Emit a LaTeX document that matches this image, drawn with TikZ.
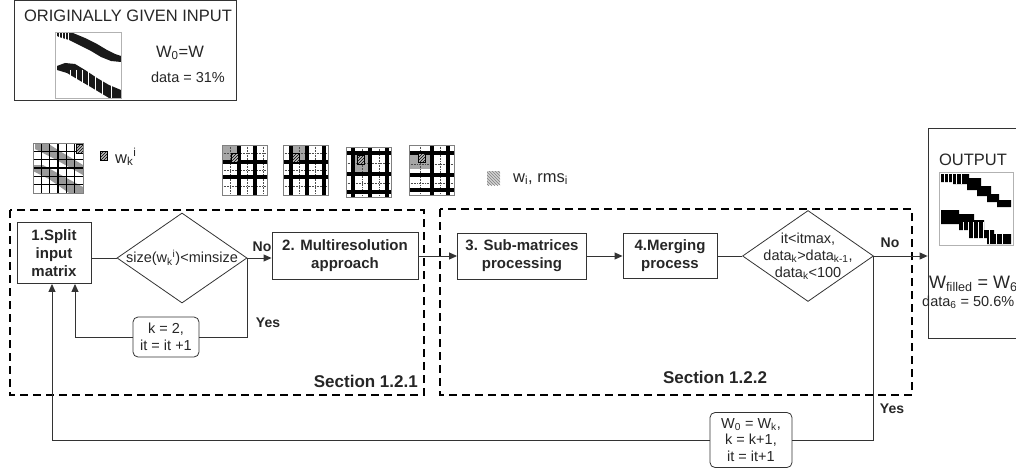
\documentclass[tikz,border=0pt]{standalone}
\usepackage{fontspec}
\setmainfont{Liberation Sans}
\usetikzlibrary{arrows.meta}
\usetikzlibrary{positioning}
\usetikzlibrary{shapes.geometric}
\usetikzlibrary{patterns}

% small hatched cell
\newcommand{\hatchcell}[2]{%
  \fill[gray!55] (#1,#2) rectangle ++(7,9);
  \fill[pattern=north east lines,pattern color=black] (#1,#2) rectangle ++(7,9);
  \draw[line width=0.4pt] (#1,#2) rectangle ++(7,9);}

% sub-matrix grid: x, y, vbars, hbars, vdots, hdots, gray block, hatch pos
\newcommand{\mgrid}[8]{%
  \begin{scope}[shift={(#1,#2)}]
    \fill[white] (0,0) rectangle (45,50);
    \fill[gray!70] #7;
    \foreach \gx in {#5} \draw[gridmark] (\gx,0) -- (\gx,50);
    \foreach \gy in {#6} \draw[gridmark] (0,\gy) -- (45,\gy);
    \foreach \gx in {#3} \draw[line width=4.5pt] (\gx,0) -- (\gx,50);
    \foreach \gy in {#4} \draw[line width=4.5pt] (0,\gy) -- (45,\gy);
    \hatchcell#8
    \draw[gray,line width=0.8pt] (0,0) rectangle (45,50);
  \end{scope}}

\begin{document}
\begin{tikzpicture}[x=1pt,y=-1pt,
    stepbox/.style={draw=black!80,line width=0.9pt,align=center,inner sep=0pt,
      text=black!85,font=\fontsize{15}{18}\selectfont\bfseries},
    decision/.style={diamond,draw=black!80,line width=0.8pt,inner sep=0pt},
    condtext/.style={align=center,inner sep=0pt,text=black!85,font=\fontsize{14.5}{17}\selectfont},
    updatebox/.style={draw=black!80,rounded corners=5pt,line width=0.8pt,align=center,
      inner sep=0pt,text=black!85,font=\fontsize{14.5}{16.5}\selectfont},
    sectionbox/.style={line width=1.7pt,dash pattern=on 8pt off 5pt},
    flow/.style={line width=0.9pt,draw=black!80},
    arr/.style={flow,-{Triangle[length=8pt,width=7pt]}},
    lbl/.style={inner sep=0pt,text=black!85,font=\fontsize{14}{17}\selectfont\bfseries},
    seclbl/.style={inner sep=0pt,text=black!85,font=\fontsize{17}{20}\selectfont\bfseries},
    txt/.style={inner sep=0pt,text=black!85,font=\fontsize{14.5}{17}\selectfont},
    bigtxt/.style={inner sep=0pt,text=black!85,font=\fontsize{16.5}{19}\selectfont},
    gridmark/.style={densely dotted,line width=0.6pt,black!70},
]
\useasboundingbox (0,0) rectangle (1016,468);
\clip (0,0) rectangle (1016,468);

% original input
\node[draw=black!80,line width=0.8pt,minimum width=222pt,minimum height=100pt,inner sep=0pt] (inbox) at (125,50) {};
\node[bigtxt] (intitle) at (128,16) {ORIGINALLY GIVEN INPUT};
\node[bigtxt] (w0) at (180,53) {W\textsubscript{0}=W};
\node[txt] (data0) at (188,77) {data = 31\%};
\begin{scope}[shift={(55,32)}]
  \fill[black!90] (2,1) -- (18,1) -- (30,6) -- (42,12) -- (52,18) -- (60,22) -- (66,24) -- (66,30) -- (56,29)
    -- (46,25) -- (36,19) -- (24,13) -- (14,8) -- (4,5) -- (2,4) -- cycle;
  \fill[black!90] (2,34) -- (10,31) -- (20,32) -- (30,38) -- (42,46) -- (54,53) -- (66,58) -- (66,66)
    -- (54,66) -- (44,60) -- (34,54) -- (22,47) -- (12,41) -- (2,38) -- cycle;
  \foreach \gx in {4,7,10,13} \draw[white,line width=0.8pt] (\gx,0) -- (\gx,9);
  \foreach \gx in {15,21,27,33,40,47,56} \draw[white,line width=1pt] (\gx,38) -- (\gx,66);
  \draw[gray!60,line width=0.6pt] (0,0) rectangle (66,66);
\end{scope}

% icons
\begin{scope}[shift={(33,143)}]
  \fill[white] (0,0) rectangle (50,50);
  \fill[gray!80] (2,0) -- (14,0) -- (30,10) -- (50,22) -- (50,32) -- (36,24) -- (18,14) -- (2,6) -- cycle;
  \fill[gray!80] (0,22) -- (10,22) -- (28,32) -- (50,44) -- (50,50) -- (36,50) -- (16,36) -- (0,28) -- cycle;
  \foreach \i in {1,...,5} {
    \draw[line width=1.2pt] ({\i*50/6},0) -- ({\i*50/6},50);
    \draw[line width=1.2pt] (0,{\i*50/6}) -- (50,{\i*50/6});
  }
  \hatchcell{43}{1}
  \draw[gray,line width=0.8pt] (0,0) rectangle (50,50);
\end{scope}
\hatchcell{100}{151}
\node[bigtxt,anchor=west] (wk) at (115,157) {w\textsubscript{k}\textsuperscript{i}};

\mgrid{222}{145}{17,33}{17,32}{8,25,41}{8,25,41}{(0,0) rectangle (17,17)}{{9}{8}}
\mgrid{283}{145}{8,24,41}{17,32}{16,32}{8,25,41}{(8,0) rectangle (24,17)}{{9}{8}}
\mgrid{346}{147}{7,24,41}{6,27,45}{16,33}{16,36}{(8,6) rectangle (24,27)}{{11}{8}}
\mgrid{409}{145}{23,39}{8,30,45}{11,31}{19,38}{(0,9) rectangle (22,24)}{{9}{8}}

\fill[gray!35] (487,171) rectangle (500,185);
\fill[pattern=north west lines,pattern color=gray] (487,171) rectangle (500,185);
\node[bigtxt,anchor=west] (rms) at (513,179) {w\textsubscript{i}, rms\textsubscript{i}};

% section boxes
\draw[sectionbox] (10,210) rectangle (424,395);
\draw[sectionbox] (440,209) rectangle (912,395);
\node[seclbl,anchor=east] (sec1) at (418,381) {Section 1.2.1};
\node[seclbl] (sec2) at (715,377) {Section 1.2.2};

% steps
\node[stepbox,minimum width=74pt,minimum height=61pt] (split) at (54,253) {1.Split\\input\\matrix};
\node[decision,minimum width=130pt,minimum height=90pt] (size) at (182,258) {};
\node[condtext] (sizetxt) at (size) {size(w\textsubscript{k}\textsuperscript{i})<minsize};
\node[stepbox,minimum width=146pt,minimum height=47pt] (multi) at (345,256) {2. Multiresolution\\approach};
\node[updatebox,minimum width=66pt,minimum height=40pt] (reset) at (166,337) {k = 2,\\it = it +1};

\node[stepbox,minimum width=129pt,minimum height=46pt] (sub) at (522,256) {3. Sub-matrices\\processing};
\node[stepbox,minimum width=94pt,minimum height=45pt] (merge) at (670,256) {4.Merging\\process};
\node[decision,minimum width=131pt,minimum height=91pt] (stop) at (808,256) {};
\node[condtext] (stoptxt) at (stop) {it<itmax,\\data\textsubscript{k}>data\textsubscript{k-1},\\data\textsubscript{k}<100};
\node[updatebox,minimum width=82pt,minimum height=55pt] (next) at (751,440) {W\textsubscript{0} = W\textsubscript{k},\\k = k+1,\\it = it+1};

% output
\node[draw=black!80,line width=0.8pt,minimum width=110pt,minimum height=210pt,inner sep=0pt] (outbox) at (983,233) {};
\node[bigtxt] (outtitle) at (973,160) {OUTPUT};
\begin{scope}[shift={(939,172)}]
  \fill[black] (2,2) -- (30,2) -- (30,6) -- (42,6) -- (42,14) -- (52,14) -- (52,22) -- (60,22) -- (60,28)
    -- (72,28) -- (72,35) -- (58,35) -- (58,30) -- (48,30) -- (48,24) -- (38,24) -- (38,18) -- (28,18)
    -- (28,12) -- (14,12) -- (14,10) -- (2,10) -- cycle;
  \fill[black] (2,38) -- (20,38) -- (20,42) -- (35,42) -- (35,48) -- (45,48) -- (45,58) -- (55,58)
    -- (55,62) -- (72,62) -- (72,72) -- (48,72) -- (48,66) -- (30,66) -- (30,58) -- (20,58) -- (20,52)
    -- (2,52) -- cycle;
  \foreach \gx in {5,9,13,17,22} \draw[white,line width=0.9pt] (\gx,2) -- (\gx,12);
  \foreach \gx in {24,29,34,39,44,50,57,63} \draw[white,line width=1pt] (\gx,50) -- (\gx,72);
  \draw[gray!60,line width=0.6pt] (0,0) rectangle (74,73);
\end{scope}
\node[anchor=west,inner sep=0pt,text=black!85,font=\fontsize{18}{21}\selectfont] (wfill) at (929,284) {W\textsubscript{filled} = W\textsubscript{6}};
\node[txt,anchor=west] (data6) at (922,302) {data\textsubscript{6} = 50.6\%};

% connectors
\draw[flow] (size.west -| split.east) -- (size.west);
\draw[arr] (size.east) -- (size.east -| multi.west);
\draw[arr] (multi) -- (sub);
\draw[arr] (sub) -- (merge);
\draw[flow] (merge) -- (stop);
\draw[arr] (stop.east) -- (stop.east -| outbox.west);
\draw[flow] (size.east) |- (reset.east);
\draw[arr] (reset.west) -| ([xshift=21pt]split.south);
\draw[flow] (stop.east) |- (next.east);
\draw[arr] (next.west) -| ([xshift=-2pt]split.south);

% branch labels
\node[lbl] (no1) at (262,247) {No};
\node[lbl] (yes1) at (268,323) {Yes};
\node[lbl] (no2) at (890,243) {No};
\node[lbl] (yes2) at (892,409) {Yes};

\end{tikzpicture}
\end{document}
